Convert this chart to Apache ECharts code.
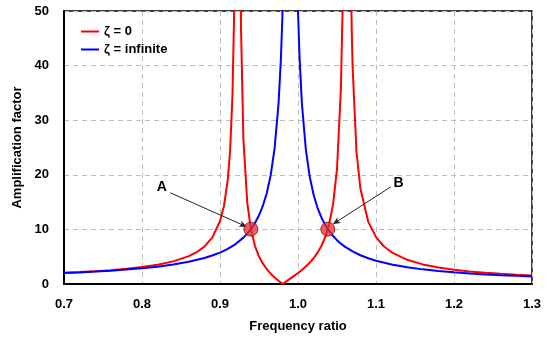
<!DOCTYPE html>
<html>
<head>
<meta charset="utf-8">
<script src="https://cdn.jsdelivr.net/npm/echarts@6/dist/echarts.min.js"></script>
<style>
  html, body { margin: 0; padding: 0; background: #fff; }
  #chart { width: 553px; height: 340px; }
</style>
</head>
<body>
<div id="chart"></div>
<script>
// frequency ratio / amplification
var zeta0X = [0.70, 0.72, 0.74, 0.76, 0.78, 0.80, 0.82, 0.84, 0.86, 0.87, 0.88, 0.89, 0.90, 0.905, 0.91, 0.913, 0.916, 0.918, 0.919, 0.92,
  0.925, 0.926, 0.927, 0.93, 0.935, 0.9396, 0.945, 0.95, 0.955, 0.96, 0.965, 0.97, 0.975, 0.9804, 0.985, 0.99, 0.995,
  1.00, 1.005, 1.01, 1.015, 1.02, 1.025, 1.03, 1.035, 1.0382, 1.04, 1.045, 1.05, 1.055, 1.057, 1.058, 1.06,
  1.065, 1.067, 1.068, 1.069, 1.07, 1.075, 1.08, 1.09, 1.10, 1.11, 1.12, 1.14, 1.16, 1.18, 1.20, 1.22, 1.24, 1.26, 1.28, 1.30];
var zeta0Y = [2.04, 2.18, 2.34, 2.54, 2.79, 3.11, 3.54, 4.14, 5.10, 5.82, 6.85, 8.49, 11.49, 14.24, 19.13, 24.48, 34.65, 48.77, 61.7, 84.5,
  87.3, 60.8, 46.4, 26.59, 14.81, 10.05, 6.90, 5.05, 3.72, 2.71, 1.89, 1.20, 0.59, 0, 0.48, 0.99, 1.49,
  2.02, 2.58, 3.20, 3.90, 4.72, 5.71, 6.96, 8.63, 10.05, 10.98, 14.62, 21.07, 35.88, 49.1, 60.0, 106.7,
  121.4, 66.4, 54.2, 45.9, 39.82, 24.16, 17.50, 11.43, 8.58, 6.91, 5.81, 4.43, 3.59, 3.03, 2.62, 2.30, 2.06, 1.86, 1.69, 1.55];

var zetaInfX = [0.70, 0.72, 0.74, 0.76, 0.78, 0.80, 0.82, 0.84, 0.86, 0.88, 0.89, 0.90, 0.91, 0.92, 0.93, 0.935, 0.9396, 0.945, 0.95,
  0.955, 0.96, 0.965, 0.97, 0.975, 0.978, 0.98, 0.985, 0.995, 1.00, 1.002, 1.005, 1.01, 1.015, 1.02, 1.025, 1.03, 1.035, 1.0382,
  1.04, 1.045, 1.05, 1.055, 1.06, 1.07, 1.08, 1.09, 1.10, 1.12, 1.14, 1.16, 1.18, 1.20, 1.22, 1.24, 1.26, 1.28, 1.30];
var zetaInfY = [2.00, 2.12, 2.27, 2.43, 2.64, 2.88, 3.18, 3.57, 4.07, 4.76, 5.21, 5.75, 6.44, 7.32, 8.49, 9.23, 10.05, 11.22, 12.59,
  14.34, 16.68, 19.94, 24.83, 32.94, 41.0, 49.0, 96.4, 101.8, 50.0, 41.5, 33.09, 24.69, 19.67, 16.34, 13.96, 12.18, 10.79, 10.05,
  9.69, 8.78, 8.03, 7.39, 6.85, 5.96, 5.27, 4.72, 4.27, 3.58, 3.07, 2.68, 2.38, 2.13, 1.93, 1.76, 1.62, 1.49, 1.38];

// crossing points and their labels
var pointNames = ['A', 'B'];
var pointX = [0.9396, 1.0382];
var pointY = [10.05, 10.05];
var labelX = [0.8255, 1.1288];
var labelY = [17.7, 18.4];
var arrowFrom = [[0.8363, 16.7], [1.1191, 17.8]];
var arrowTo = [[0.9339, 10.5], [1.0451, 11.0]];

function zip(xs, ys) {
  var out = [];
  for (var i = 0; i < xs.length; i++) out.push([xs[i], ys[i]]);
  return out;
}

var font = 'Liberation Sans, Arial, sans-serif';
var chart = echarts.init(document.getElementById('chart'));

var arrows = [];
for (var i = 0; i < pointNames.length; i++) {
  arrows.push([{ coord: arrowFrom[i] }, { coord: arrowTo[i] }]);
}
var labelPts = [];
for (var i = 0; i < pointNames.length; i++) {
  labelPts.push({ name: pointNames[i], value: [labelX[i], labelY[i]] });
}

var option = {
  animation: false,
  grid: {
    left: 64, right: 21, top: 11, bottom: 56,
    show: true, borderColor: '#000', borderWidth: 1.5
  },
  legend: {
    orient: 'vertical',
    left: 76, top: 20,
    itemWidth: 18, itemHeight: 2, itemGap: 5,
    icon: 'rect',
    textStyle: { fontFamily: font, fontWeight: 'bold', fontSize: 13, color: '#000' },
    data: ['ζ = 0', 'ζ = infinite']
  },
  xAxis: {
    type: 'value', min: 0.7, max: 1.3, interval: 0.1,
    name: 'Frequency ratio', nameLocation: 'middle', nameGap: 36,
    nameTextStyle: { fontFamily: font, fontWeight: 'bold', fontSize: 13, color: '#000' },
    axisLine: { lineStyle: { color: '#000', width: 2 } },
    axisTick: { show: false },
    axisLabel: {
      margin: 14, fontFamily: font, fontWeight: 'bold', fontSize: 13, color: '#000',
      formatter: function (v) { return v.toFixed(1); }
    },
    splitLine: { lineStyle: { color: '#bdbdbd', type: [5, 4], width: 1 } }
  },
  yAxis: {
    type: 'value', min: 0, max: 50, interval: 10,
    name: 'Amplification factor', nameLocation: 'middle', nameGap: 37,
    nameTextStyle: { fontFamily: font, fontWeight: 'bold', fontSize: 13, color: '#000' },
    axisLine: { show: true, lineStyle: { color: '#000', width: 2 } },
    axisTick: { show: false },
    axisLabel: { margin: 15, fontFamily: font, fontWeight: 'bold', fontSize: 13, color: '#000' },
    splitLine: { lineStyle: { color: '#bdbdbd', type: [5, 4], width: 1 } }
  },
  series: [
    {
      name: 'ζ = 0', type: 'line', data: zip(zeta0X, zeta0Y),
      showSymbol: false, clip: true, color: '#ff0000',
      lineStyle: { width: 2, color: '#ff0000' }, z: 2
    },
    {
      name: 'ζ = infinite', type: 'line', data: zip(zetaInfX, zetaInfY),
      showSymbol: false, clip: true, color: '#0000ff',
      lineStyle: { width: 2, color: '#0000ff' }, z: 3
    },
    {
      name: 'points', type: 'scatter', data: zip(pointX, pointY),
      symbolSize: 14, z: 5,
      itemStyle: { color: 'rgba(235,45,45,0.75)', borderColor: 'rgba(110,20,20,0.8)', borderWidth: 1, opacity: 1 },
      markLine: {
        silent: true, symbol: ['none', 'arrow'], symbolSize: [5, 7],
        lineStyle: { color: '#222', width: 1, type: 'solid' },
        label: { show: false },
        data: arrows
      }
    },
    {
      name: 'labels', type: 'scatter', data: labelPts,
      symbolSize: 1, z: 6,
      itemStyle: { color: 'rgba(0,0,0,0)' },
      label: {
        show: true, position: 'inside', formatter: '{b}',
        fontFamily: font, fontWeight: 'bold', fontSize: 14, color: '#000', opacity: 1
      }
    }
  ]
};
chart.setOption(option);
</script>
</body>
</html>
